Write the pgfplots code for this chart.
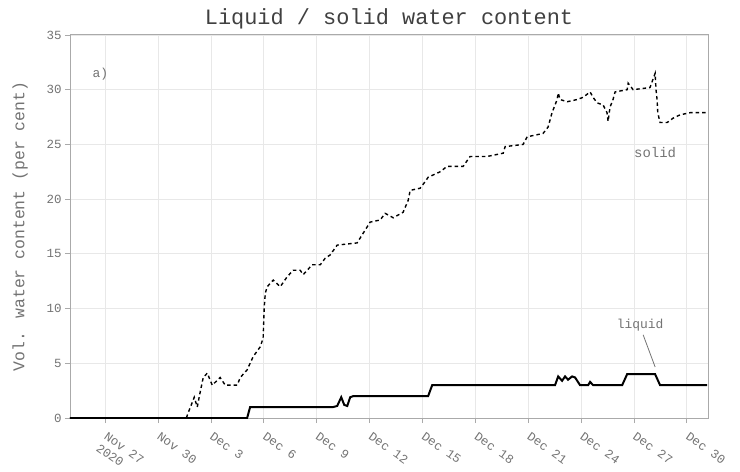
\documentclass[border=0pt]{standalone}
\usepackage{fontspec}
\setmainfont{Liberation Mono}
\usepackage{pgfplots}
\pgfplotsset{compat=1.18}

\definecolor{txtgray}{RGB}{115,115,115}
\definecolor{gridgray}{RGB}{232,232,232}
\definecolor{axgray}{RGB}{170,170,170}

% day 0 = 25 Nov 2020
\pgfplotstableread{
x y
0.00 0.0
6.60 0.0
6.71 0.5
6.93 1.4
7.05 1.9
7.22 1.0
7.39 2.4
7.56 3.7
7.79 4.1
8.07 3.0
8.52 3.7
8.81 3.0
9.49 3.0
9.66 3.7
10.05 4.4
10.39 5.6
10.79 6.5
10.96 7.3
11.02 10.1
11.08 11.4
11.19 12.0
11.53 12.6
11.93 12.0
12.32 12.9
12.66 13.5
13.06 13.5
13.23 13.1
13.74 14.0
14.20 14.0
14.48 14.6
14.76 14.9
15.16 15.8
16.29 16.0
17.03 17.9
17.60 18.1
17.88 18.7
18.34 18.3
18.90 18.8
19.19 19.9
19.30 20.8
19.87 21.0
20.15 21.6
20.32 22.0
21.00 22.5
21.40 23.0
22.31 23.0
22.70 23.9
23.67 23.9
24.58 24.2
24.69 24.8
25.71 25.0
25.94 25.7
26.84 26.0
27.13 26.6
27.35 27.9
27.64 29.1
27.70 29.7
27.81 29.1
28.21 28.9
28.77 29.1
29.11 29.3
29.51 29.8
29.68 29.3
29.91 28.8
30.25 28.6
30.47 27.9
30.53 27.1
30.64 28.4
30.81 29.1
30.93 29.8
31.61 30.0
31.67 30.6
31.95 30.0
32.91 30.2
33.20 31.5
33.25 30.0
33.31 29.1
33.35 27.9
33.48 27.0
33.88 27.0
34.22 27.4
34.61 27.7
35.18 27.9
36.15 27.9
}\solidtab

\pgfplotstableread{
x y
0.00 0.0
10.05 0.0
10.22 1.0
14.93 1.0
15.16 1.1
15.39 1.9
15.56 1.2
15.73 1.1
15.90 1.9
16.07 2.0
20.32 2.0
20.55 3.0
27.52 3.0
27.70 3.8
27.92 3.4
28.09 3.8
28.26 3.5
28.49 3.8
28.66 3.7
28.94 3.0
29.40 3.0
29.51 3.3
29.68 3.0
29.79 3.0
31.33 3.0
31.61 4.0
33.20 4.0
33.48 3.0
36.15 3.0
}\liquidtab

\begin{document}
\begin{tikzpicture}
\begin{axis}[
    scale only axis,
    width=638bp, height=383bp,
    xmin=0, xmax=36.2,
    ymin=0, ymax=35,
    xtick={2,5,8,11,14,17,20,23,26,29,32,35},
    xticklabels={{Nov 27\\2020},Nov 30,Dec 3,Dec 6,Dec 9,Dec 12,Dec 15,Dec 18,Dec 21,Dec 24,Dec 27,Dec 30},
    ytick={0,5,...,35},
    tick pos=left,
    tick align=outside,
    major tick length=5bp,
    tick style={axgray, line width=0.8pt},
    axis line style={axgray, line width=1pt},
    grid=major,
    major grid style={gridgray, line width=0.8pt},
    /pgf/number format/assume math mode=true,
    yticklabel style={font=\fontsize{12.5}{14}\selectfont, text=txtgray},
    xticklabel style={font=\fontsize{12.5}{14}\selectfont, text=txtgray,
        rotate=-35, anchor=north west, align=left, xshift=4bp, yshift=-2bp},
    title={Liquid / solid water content},
    title style={font=\fontsize{22}{24}\selectfont, text=black!75, yshift=-4bp},
    ylabel={Vol. water content (per cent)},
    ylabel style={font=\fontsize{16.5}{18}\selectfont, text=txtgray,
        at={(axis description cs:-0.078,0.5)}, anchor=center},
    clip=false,
]
\addplot[black, line width=1.4pt, dash pattern=on 3.5pt off 3pt] table {\solidtab};
\addplot[black, line width=2pt] table {\liquidtab};
\node[font=\fontsize{13}{14}\selectfont, text=txtgray] at (axis cs:1.72,31.4) {a)};
\node[font=\fontsize{14}{15}\selectfont, text=txtgray] at (axis cs:33.2,24.3) {solid};
\node[font=\fontsize{13}{14}\selectfont, text=txtgray] at (axis cs:32.35,8.5) {liquid};
\draw[txtgray, line width=0.8pt] (axis cs:32.52,7.6) -- (axis cs:33.2,4.66);
\end{axis}
\pgfresetboundingbox
\path[use as bounding box] ([xshift=-70bp,yshift=-54bp]current axis.south west) rectangle ([xshift=32bp,yshift=35bp]current axis.north east);
\end{tikzpicture}
\end{document}
